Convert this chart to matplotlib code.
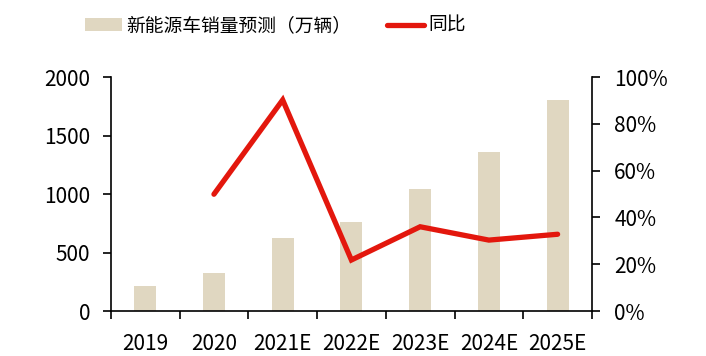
import matplotlib.pyplot as plt
import numpy as np
from matplotlib.ticker import FuncFormatter

plt.rcParams['font.family'] = ['Noto Sans CJK SC', 'DejaVu Sans']

years = ["2019", "2020", "2021E", "2022E", "2023E", "2024E", "2025E"]
sales = [214, 327, 624, 764, 1043, 1359, 1803]
yoy_years = ["2020", "2021E", "2022E", "2023E", "2024E", "2025E"]
yoy = [49.9, 90.2, 21.8, 36.0, 30.3, 32.8]

fig = plt.figure(figsize=(7.06, 3.56), dpi=100)
ax = fig.add_axes([0.157, 0.1264, 0.6815, 0.6573])
ax2 = ax.twinx()

x = np.arange(len(years))
bars = ax.bar(x, sales, width=0.32, color="#E0D7C1", label="新能源车销量预测（万辆）", zorder=1)
xi = [years.index(y) for y in yoy_years]
line, = ax2.plot(xi, yoy, color="#E3170D", lw=3.8, solid_capstyle="round",
                 solid_joinstyle="miter", label="同比", zorder=3)

ax.set_xlim(-0.5, len(years) - 0.5)
ax.set_ylim(0, 2000)
ax.set_yticks([0, 500, 1000, 1500, 2000])
ax2.set_ylim(0, 100)
ax2.set_yticks([0, 20, 40, 60, 80, 100])
ax2.yaxis.set_major_formatter(FuncFormatter(lambda v, p: f"{v:.0f}%"))

ax.set_xticks(x)
ax.set_xticklabels(years)
ax.set_xticks(np.arange(-0.5, len(years), 1.0), minor=True)
ax.tick_params(axis="x", which="major", length=0, pad=16, labelsize=15)
ax.tick_params(axis="x", which="minor", length=6, width=1.2, direction="out")
ax.tick_params(axis="y", length=6, width=1.2, direction="out", labelsize=15, pad=9)
ax2.tick_params(axis="y", length=6, width=1.2, direction="out", labelsize=15, pad=10)

for a in (ax, ax2):
    a.spines["top"].set_visible(False)
    for s in ("left", "right", "bottom"):
        a.spines[s].set_linewidth(1.2)
ax.spines["right"].set_visible(False)
ax2.spines["left"].set_visible(False)
ax2.spines["bottom"].set_visible(False)

fig.legend(handles=[bars, line], loc="center", bbox_to_anchor=(0.39, 0.928), ncol=2,
           frameon=False, fontsize=13.5, handlelength=2.0, handleheight=0.67,
           handletextpad=0.22, columnspacing=1.9)

fig.savefig("out.png", dpi=100)
